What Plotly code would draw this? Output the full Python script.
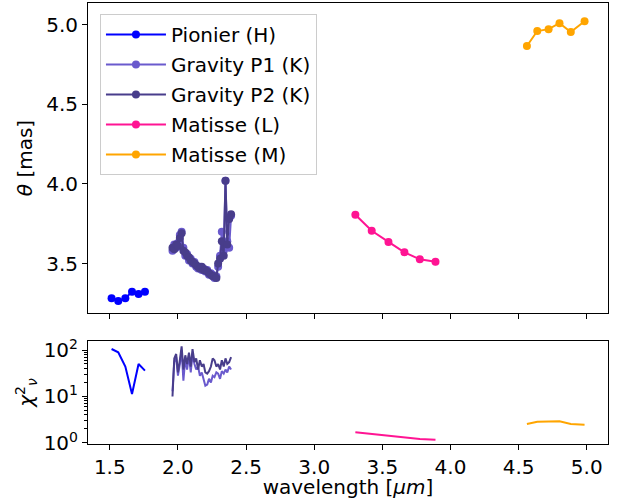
import plotly.graph_objects as go

# ---------------- data ----------------
pio_wl = [1.513, 1.562, 1.614, 1.663, 1.711, 1.758]
pio_theta = [3.282, 3.265, 3.282, 3.324, 3.309, 3.324]
pio_err = [0.006, 0.006, 0.006, 0.006, 0.006, 0.006]
pio_chi2 = [105, 89, 44, 11.3, 50, 36]

grav_wl = [1.960, 1.973, 1.987, 2.000, 2.014, 2.027, 2.040, 2.054, 2.067, 2.081, 2.094,
           2.107, 2.121, 2.134, 2.148, 2.161, 2.175, 2.188, 2.201, 2.215, 2.228, 2.242,
           2.255, 2.268, 2.282, 2.295, 2.309, 2.322, 2.336, 2.349, 2.362, 2.376, 2.390]
grav1_theta = [3.58, 3.62, 3.60, 3.63, 3.68, 3.70, 3.60, 3.55, 3.56, 3.52, 3.53,
               3.50, 3.51, 3.48, 3.47, 3.48, 3.46, 3.47, 3.45, 3.46, 3.43, 3.44,
               3.43, 3.41, 3.42, 3.48, 3.55, 3.70, 3.58, 4.02, 3.64, 3.60, 3.80]
grav2_theta = [3.60, 3.59, 3.62, 3.61, 3.66, 3.69, 3.58, 3.57, 3.55, 3.54, 3.52,
               3.51, 3.50, 3.49, 3.48, 3.47, 3.48, 3.46, 3.46, 3.45, 3.44, 3.43,
               3.42, 3.42, 3.41, 3.50, 3.53, 3.64, 3.55, 4.02, 3.62, 3.78, 3.81]
grav_err = [0.01] * 33
grav1_chi2 = [13, 55, 70, 28, 50, 100, 22, 66, 38, 77, 33,
              82, 50, 38, 44, 28, 33, 22, 17, 18, 24, 20,
              28, 26, 33, 31, 24, 35, 31, 38, 33, 44, 38]
grav2_chi2 = [10, 66, 82, 33, 60, 120, 38, 77, 50, 88, 44,
              104, 55, 66, 38, 60, 44, 50, 33, 31, 35, 44,
              66, 60, 44, 50, 38, 60, 44, 66, 50, 55, 70]

matL_wl = [3.302, 3.422, 3.545, 3.662, 3.775, 3.890]
matL_theta = [3.807, 3.706, 3.636, 3.571, 3.527, 3.512]
matL_err = [0.02, 0.02, 0.02, 0.02, 0.02, 0.022]
matL_chi2 = [1.70, 1.55, 1.45, 1.32, 1.22, 1.17]

matM_wl = [4.561, 4.637, 4.720, 4.800, 4.883, 4.984]
matM_theta = [4.865, 4.959, 4.971, 5.008, 4.953, 5.020]
matM_err = [0.015, 0.015, 0.015, 0.015, 0.015, 0.015]
matM_chi2 = [2.55, 2.85, 2.90, 2.92, 2.55, 2.48]

names = ["Pionier (H)", "Gravity P1 (K)", "Gravity P2 (K)", "Matisse (L)", "Matisse (M)"]
colors = ["#0000ff", "#6a5acd", "#483d8b", "#ff1493", "#ffa500"]

x_ticks = [1.5, 2.0, 2.5, 3.0, 3.5, 4.0, 4.5, 5.0]
x_ticklabels = ["1.5", "2.0", "2.5", "3.0", "3.5", "4.0", "4.5", "5.0"]
theta_ticks = [3.5, 4.0, 4.5, 5.0]
theta_ticklabels = ["3.5", "4.0", "4.5", "5.0"]
chi_ticks = [1, 10, 100]
chi_ticklabels = ["10<sup>0</sup>", "10<sup>1</sup>", "10<sup>2</sup>"]
chi_minor = [2, 3, 4, 5, 6, 7, 8, 9, 20, 30, 40, 50, 60, 70, 80, 90]

series = [
    (pio_wl, pio_theta, pio_err, pio_chi2),
    (grav_wl, grav1_theta, grav_err, grav1_chi2),
    (grav_wl, grav2_theta, grav_err, grav2_chi2),
    (matL_wl, matL_theta, matL_err, matL_chi2),
    (matM_wl, matM_theta, matM_err, matM_chi2),
]

FONT = "DejaVu Sans"
fig = go.Figure()

for i, (wl, th, er, chi) in enumerate(series):
    c = colors[i]
    fig.add_trace(go.Scatter(
        x=wl, y=th, mode="lines+markers", name=names[i],
        line=dict(color=c, width=2), marker=dict(color=c, size=8),
        error_y=dict(type="data", array=er, color=c, thickness=1.5, width=0),
        xaxis="x", yaxis="y", legendgroup=names[i],
    ))
for i, (wl, th, er, chi) in enumerate(series):
    c = colors[i]
    fig.add_trace(go.Scatter(
        x=wl, y=chi, mode="lines", line=dict(color=c, width=2),
        showlegend=False, xaxis="x2", yaxis="y2",
    ))

axis_common = dict(showline=True, linecolor="black", linewidth=1, mirror=True,
                   ticks="outside", ticklen=5, tickcolor="black", showgrid=False,
                   zeroline=False, automargin=False,
                   tickfont=dict(family=FONT, size=20, color="black"))

fig.update_layout(
    width=627, height=499,
    margin=dict(l=88, r=19, t=3, b=55),
    paper_bgcolor="white", plot_bgcolor="white",
    font=dict(family=FONT, color="black"),
    xaxis=dict(domain=[0, 1], range=[1.34, 5.156], anchor="y", showticklabels=False,
               tickvals=x_ticks, **axis_common),
    yaxis=dict(domain=[0.297, 1.0], range=[3.19, 5.135], anchor="x",
               tickvals=theta_ticks, ticktext=theta_ticklabels,
               title=dict(text="<i>θ</i> [mas]", font=dict(family=FONT, size=20),
                          standoff=8),
               **axis_common),
    xaxis2=dict(domain=[0, 1], range=[1.34, 5.156], anchor="y2", matches="x",
                tickvals=x_ticks, ticktext=x_ticklabels,
                title=dict(text="wavelength [<i>μm</i>]", font=dict(family=FONT, size=20),
                           standoff=2),
                **axis_common),
    yaxis2=dict(domain=[0, 0.2336], type="log", range=[-0.022, 2.194], anchor="x2",
                tickvals=chi_ticks, ticktext=chi_ticklabels,
                minor=dict(ticks="outside", ticklen=3, tickcolor="black", showgrid=False,
                           tickvals=chi_minor),
                title=dict(text="<i>χ</i><sup>2</sup><sub><i>ν</i></sub>",
                           font=dict(family=FONT, size=20), standoff=4),
                **axis_common),
    legend=dict(x=0.023, y=0.975, xanchor="left", yanchor="top",
                bgcolor="rgba(255,255,255,0.8)", bordercolor="#cccccc", borderwidth=1,
                font=dict(family=FONT, size=20, color="black"),
                traceorder="grouped", tracegroupgap=1, itemwidth=60),
)

fig.write_html("out.html", config={"displayModeBar": False},
               post_script="document.body.style.margin='0';document.body.style.overflow='hidden';")
